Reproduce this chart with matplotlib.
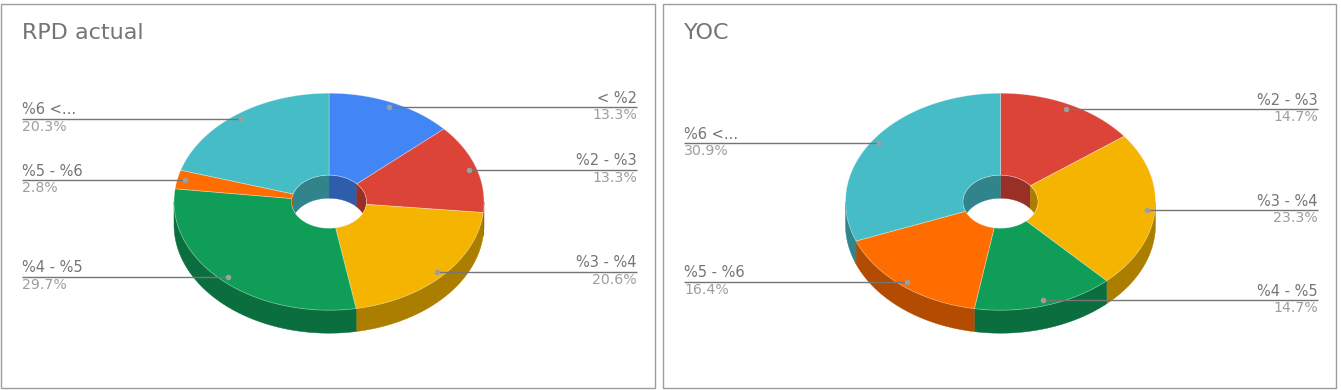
import matplotlib
matplotlib.use("Agg")
import matplotlib.pyplot as plt
from matplotlib.patches import Polygon, Rectangle, Ellipse
import numpy as np

rpd_labels = ["< %2", "%2 - %3", "%3 - %4", "%4 - %5", "%5 - %6", "%6 <..."]
rpd_values = [13.3, 13.3, 20.6, 29.7, 2.8, 20.3]
rpd_colors = ["#4285F4", "#DB4437", "#F4B400", "#0F9D58", "#FF6D00", "#46BDC6"]

yoc_labels = ["%2 - %3", "%3 - %4", "%4 - %5", "%5 - %6", "%6 <..."]
yoc_values = [14.7, 23.3, 14.7, 16.4, 30.9]
yoc_colors = ["#DB4437", "#F4B400", "#0F9D58", "#FF6D00", "#46BDC6"]

RX, RY = 155, 108.5
HOLE_RX, HOLE_RY = 37.5, 26.5
DEPTH = 23


def darken(color, f=0.7):
    r, g, b = matplotlib.colors.to_rgb(color)
    return (r * f, g * f, b * f)


def ring_point(cx, cy, t, rx, ry, drop=0):
    return cx + rx * np.sin(t), cy - ry * np.cos(t) + drop


def draw_chart(ax, box, title, labels, values, colors, cx, cy):
    left, top, right, bottom = box
    ax.add_patch(Rectangle((left, top), right - left, bottom - top, fc="white", ec="#9e9e9e", lw=1))
    ax.text(left + 20.5, 33, title, fontsize=16, color="#757575", va="center", ha="left")

    total = sum(values)
    edges = np.cumsum([0] + list(values)) / total * 2 * np.pi
    hole = Ellipse((cx, cy), HOLE_RX * 2, HOLE_RY * 2, transform=ax.transData)

    # outer wall, only the front half is seen
    for i, c in enumerate(colors):
        t0, t1 = max(edges[i], np.pi / 2), min(edges[i + 1], 3 * np.pi / 2)
        if t1 <= t0:
            continue
        t = np.linspace(t0, t1, 80)
        x, y = ring_point(cx, cy, t, RX, RY)
        xs = np.r_[x, x[::-1]]
        ys = np.r_[y, y[::-1] + DEPTH]
        ax.add_patch(Polygon(np.c_[xs, ys], fc=darken(c), ec=darken(c), lw=0.3))

    # inner wall, back half of the hole
    for i, c in enumerate(colors):
        for a, b in [(0, np.pi / 2), (3 * np.pi / 2, 2 * np.pi)]:
            t0, t1 = max(edges[i], a), min(edges[i + 1], b)
            if t1 <= t0:
                continue
            t = np.linspace(t0, t1, 40)
            x, y = ring_point(cx, cy, t, HOLE_RX, HOLE_RY)
            xs = np.r_[x, x[::-1]]
            ys = np.r_[y, y[::-1] + DEPTH]
            p = Polygon(np.c_[xs, ys], fc=darken(c), ec=darken(c), lw=0.3)
            ax.add_patch(p)
            p.set_clip_path(hole)

    # top surface
    for i, c in enumerate(colors):
        t = np.linspace(edges[i], edges[i + 1], 120)
        xo, yo = ring_point(cx, cy, t, RX, RY)
        xi, yi = ring_point(cx, cy, t, HOLE_RX, HOLE_RY)
        pts = np.c_[np.r_[xo, xi[::-1]], np.r_[yo, yi[::-1]]]
        ax.add_patch(Polygon(pts, fc=c, ec=(1, 1, 1, 0.35), lw=0.6))

    # leader lines and labels
    for i, lab in enumerate(labels):
        mid = (edges[i] + edges[i + 1]) / 2
        x, y = ring_point(cx, cy, mid, RX * 0.95, RY * 0.95)
        pct = f"{values[i]:.1f}%"
        if np.sin(mid) >= 0:
            tx, ha = right - 18.5, "right"
        else:
            tx, ha = left + 20.5, "left"
        ax.plot([x, tx], [y, y], color="#757575", lw=1.0, solid_capstyle="butt")
        ax.plot([x], [y], "o", ms=4, color="#9e9e9e", mec="none")
        ax.text(tx, y - 1.5, lab, fontsize=10.5, color="#757575", ha=ha, va="bottom")
        ax.text(tx, y + 1, pct, fontsize=10.2, color="#9e9e9e", ha=ha, va="top")


fig = plt.figure(figsize=(13.41, 3.9), dpi=100)
ax = fig.add_axes([0, 0, 1, 1])
ax.set_xlim(0, 1341)
ax.set_ylim(390, 0)
ax.axis("off")

draw_chart(ax, (1.5, 3.5, 655.5, 387.5), "RPD actual", rpd_labels, rpd_values, rpd_colors, 329, 201.7)
draw_chart(ax, (663.5, 3.5, 1336.5, 387.5), "YOC", yoc_labels, yoc_values, yoc_colors, 1000.5, 201.7)

fig.savefig("out.png", dpi=100)
